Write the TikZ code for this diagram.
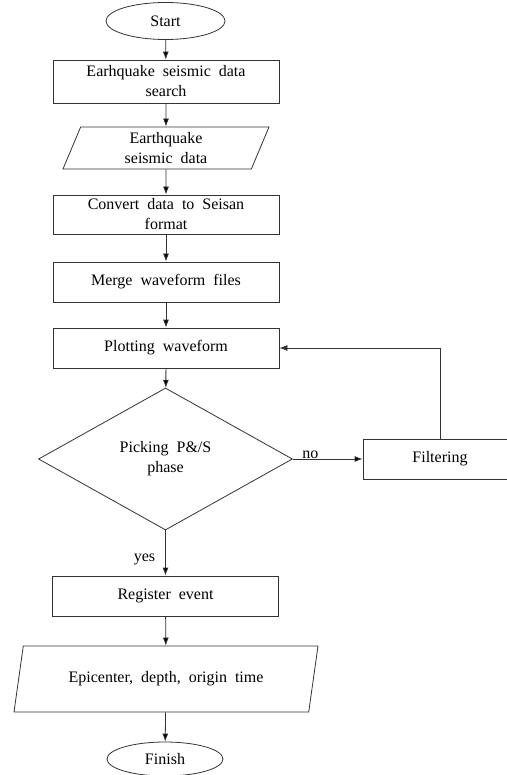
\documentclass[tikz,border=0pt]{standalone}
\usepackage{fontspec}
\setmainfont[WordSpace=2]{Liberation Serif}
\usetikzlibrary{shapes.geometric,arrows.meta}
\begin{document}
\begin{tikzpicture}[x=1pt, y=-1pt, >={Latex[length=8pt,width=6pt]},
        every node/.style={draw=black!80, line width=0.8pt, align=center, inner sep=2pt, font=\fontsize{16}{20}\selectfont},
        terminal/.style={ellipse},
        process/.style={rectangle, minimum width=226pt, minimum height=40pt},
        io/.style={trapezium, trapezium left angle=63.4, trapezium right angle=116.6, trapezium stretches body},
        decision/.style={diamond, aspect=1.79, minimum width=254pt, minimum height=142pt, inner sep=0pt},
        tag/.style={draw=none, inner sep=0pt}]
            \useasboundingbox (0,0) rectangle (506,775);
            \node[terminal, minimum width=119pt, minimum height=37pt] (start) at (165.5,21) {Start};
            \node[process, minimum height=43pt] (search) at (166,81.5) {Earhquake seismic data\\search};
            \node[io, minimum width=206pt, minimum height=42pt] (data) at (166,148) {Earthquake\\seismic data};
            \node[process, minimum height=39pt] (convert) at (166,214.5) {Convert data to Seisan\\format};
            \node[process] (merge) at (166,282) {Merge waveform files};
            \node[process] (plot) at (166,348) {Plotting waveform};
            \node[decision] (pick) at (165.5,459) {Picking P\&/S\\phase};
            \node[process, minimum width=154pt] (filter) at (440,459) {Filtering};
            \node[process] (register) at (165.5,596) {Register event};
            \node[io, minimum width=304pt, minimum height=66pt] (result) at (166,679) {Epicenter, depth, origin time};
            \node[terminal, minimum width=116pt, minimum height=34pt] (finish) at (165,759) {Finish};
            \path [->, draw=black!80, line width=0.8pt] (start) edge (search);
            \path [->, draw=black!80, line width=0.8pt] (search) edge (data);
            \path [->, draw=black!80, line width=0.8pt] (data) edge (convert);
            \path [->, draw=black!80, line width=0.8pt] (convert) edge (merge);
            \path [->, draw=black!80, line width=0.8pt] (merge) edge (plot);
            \path [->, draw=black!80, line width=0.8pt] (plot) edge (pick);
            \path [->, draw=black!80, line width=0.8pt] (pick) edge node[tag, above, pos=0.25] {no} (filter);
            \path [->, draw=black!80, line width=0.8pt] (filter.north) |- (plot.east);
            \path [->, draw=black!80, line width=0.8pt] (pick) edge node[tag, left, pos=0.65, xshift=-10pt] {yes} (register);
            \path [->, draw=black!80, line width=0.8pt] (register) edge (result);
            \path [->, draw=black!80, line width=0.8pt] (result) edge (finish);
        \end{tikzpicture}
\end{document}
